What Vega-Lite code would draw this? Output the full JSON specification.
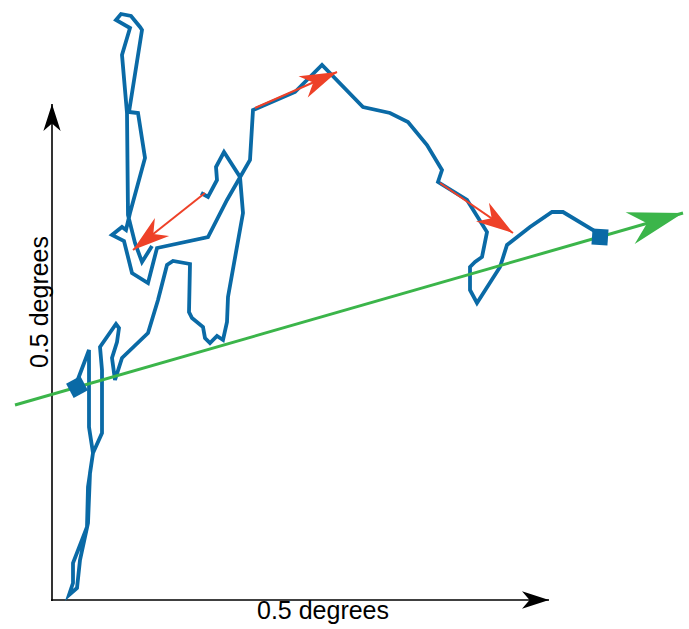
{
  "$schema": "https://vega.github.io/schema/vega-lite/v6.json",
  "width": 689,
  "height": 629,
  "padding": 0,
  "autosize": {"type": "fit", "contains": "padding"},
  "config": {"view": {"stroke": null}},
  "datasets": {
    "path": [
      {"seg": 1, "i": 1, "x": 75, "y": 387},
      {"seg": 1, "i": 2, "x": 89, "y": 350},
      {"seg": 1, "i": 3, "x": 89, "y": 427},
      {"seg": 1, "i": 4, "x": 93, "y": 453},
      {"seg": 1, "i": 5, "x": 88, "y": 487},
      {"seg": 1, "i": 6, "x": 87, "y": 527},
      {"seg": 1, "i": 7, "x": 82, "y": 540},
      {"seg": 1, "i": 8, "x": 73, "y": 563},
      {"seg": 1, "i": 9, "x": 73, "y": 583},
      {"seg": 1, "i": 10, "x": 69, "y": 595},
      {"seg": 1, "i": 11, "x": 77, "y": 588},
      {"seg": 1, "i": 12, "x": 80, "y": 560},
      {"seg": 1, "i": 13, "x": 88, "y": 523},
      {"seg": 1, "i": 14, "x": 90, "y": 473},
      {"seg": 1, "i": 15, "x": 93, "y": 453},
      {"seg": 1, "i": 16, "x": 102, "y": 433},
      {"seg": 1, "i": 17, "x": 102, "y": 370},
      {"seg": 1, "i": 18, "x": 100, "y": 347},
      {"seg": 1, "i": 19, "x": 116, "y": 324},
      {"seg": 1, "i": 20, "x": 119, "y": 328},
      {"seg": 1, "i": 21, "x": 117, "y": 342},
      {"seg": 1, "i": 22, "x": 112, "y": 358},
      {"seg": 1, "i": 23, "x": 115, "y": 380},
      {"seg": 1, "i": 24, "x": 122, "y": 358},
      {"seg": 1, "i": 25, "x": 148, "y": 333},
      {"seg": 1, "i": 26, "x": 158, "y": 300},
      {"seg": 1, "i": 27, "x": 167, "y": 265},
      {"seg": 1, "i": 28, "x": 173, "y": 261},
      {"seg": 1, "i": 29, "x": 190, "y": 264},
      {"seg": 1, "i": 30, "x": 189, "y": 312},
      {"seg": 1, "i": 31, "x": 192, "y": 318},
      {"seg": 1, "i": 32, "x": 203, "y": 327},
      {"seg": 1, "i": 33, "x": 205, "y": 338},
      {"seg": 1, "i": 34, "x": 210, "y": 343},
      {"seg": 1, "i": 35, "x": 217, "y": 336},
      {"seg": 1, "i": 36, "x": 223, "y": 340},
      {"seg": 1, "i": 37, "x": 227, "y": 322},
      {"seg": 1, "i": 38, "x": 228, "y": 297},
      {"seg": 1, "i": 39, "x": 243, "y": 213},
      {"seg": 1, "i": 40, "x": 240, "y": 177},
      {"seg": 1, "i": 41, "x": 224, "y": 152},
      {"seg": 1, "i": 42, "x": 216, "y": 167},
      {"seg": 1, "i": 43, "x": 217, "y": 180},
      {"seg": 1, "i": 44, "x": 208, "y": 197},
      {"seg": 1, "i": 45, "x": 201, "y": 193},
      {"seg": 2, "i": 46, "x": 152, "y": 246},
      {"seg": 2, "i": 47, "x": 142, "y": 262},
      {"seg": 2, "i": 48, "x": 135, "y": 243},
      {"seg": 2, "i": 49, "x": 128, "y": 215},
      {"seg": 2, "i": 50, "x": 127, "y": 113},
      {"seg": 2, "i": 51, "x": 122, "y": 55},
      {"seg": 2, "i": 52, "x": 130, "y": 28},
      {"seg": 2, "i": 53, "x": 116, "y": 20},
      {"seg": 2, "i": 54, "x": 121, "y": 14},
      {"seg": 2, "i": 55, "x": 131, "y": 16},
      {"seg": 2, "i": 56, "x": 140, "y": 27},
      {"seg": 2, "i": 57, "x": 142, "y": 30},
      {"seg": 2, "i": 58, "x": 129, "y": 112},
      {"seg": 2, "i": 59, "x": 138, "y": 113},
      {"seg": 2, "i": 60, "x": 145, "y": 158},
      {"seg": 2, "i": 61, "x": 130, "y": 213},
      {"seg": 2, "i": 62, "x": 126, "y": 230},
      {"seg": 2, "i": 63, "x": 122, "y": 227},
      {"seg": 2, "i": 64, "x": 112, "y": 235},
      {"seg": 2, "i": 65, "x": 124, "y": 241},
      {"seg": 2, "i": 66, "x": 127, "y": 253},
      {"seg": 2, "i": 67, "x": 132, "y": 273},
      {"seg": 2, "i": 68, "x": 148, "y": 283},
      {"seg": 2, "i": 69, "x": 157, "y": 248},
      {"seg": 2, "i": 70, "x": 208, "y": 237},
      {"seg": 2, "i": 71, "x": 227, "y": 200},
      {"seg": 2, "i": 72, "x": 250, "y": 160},
      {"seg": 2, "i": 73, "x": 253, "y": 110},
      {"seg": 2, "i": 74, "x": 295, "y": 92},
      {"seg": 2, "i": 75, "x": 322, "y": 65},
      {"seg": 2, "i": 76, "x": 363, "y": 107},
      {"seg": 2, "i": 77, "x": 390, "y": 113},
      {"seg": 2, "i": 78, "x": 408, "y": 122},
      {"seg": 2, "i": 79, "x": 427, "y": 145},
      {"seg": 2, "i": 80, "x": 442, "y": 170},
      {"seg": 2, "i": 81, "x": 438, "y": 182},
      {"seg": 2, "i": 82, "x": 467, "y": 200},
      {"seg": 2, "i": 83, "x": 487, "y": 232},
      {"seg": 2, "i": 84, "x": 482, "y": 257},
      {"seg": 2, "i": 85, "x": 475, "y": 262},
      {"seg": 2, "i": 86, "x": 470, "y": 267},
      {"seg": 2, "i": 87, "x": 470, "y": 290},
      {"seg": 2, "i": 88, "x": 477, "y": 303},
      {"seg": 2, "i": 89, "x": 500, "y": 267},
      {"seg": 2, "i": 90, "x": 507, "y": 245},
      {"seg": 2, "i": 91, "x": 530, "y": 227},
      {"seg": 2, "i": 92, "x": 552, "y": 212},
      {"seg": 2, "i": 93, "x": 563, "y": 212},
      {"seg": 2, "i": 94, "x": 593, "y": 230},
      {"seg": 2, "i": 95, "x": 600, "y": 237}
    ],
    "arrows": [
      {"kind": "saccade", "x": 205, "y": 193, "x2": 133, "y2": 250},
      {"kind": "saccade", "x": 255, "y": 108, "x2": 337, "y2": 72},
      {"kind": "saccade", "x": 440, "y": 183, "x2": 513, "y2": 233},
      {"kind": "trend", "x": 15, "y": 405, "x2": 683, "y2": 213},
      {"kind": "axis", "x": 52, "y": 601, "x2": 52, "y2": 104},
      {"kind": "axis", "x": 51, "y": 600, "x2": 549, "y2": 600}
    ],
    "ends": [
      {"which": "start", "x": 77, "y": 387},
      {"which": "end", "x": 600, "y": 237}
    ],
    "labels": [
      {"dir": "x", "text": "0.5 degrees", "x": 323, "y": 611},
      {"dir": "y", "text": "0.5 degrees", "x": 40, "y": 302}
    ]
  },
  "layer": [
    {
      "data": {"name": "arrows"},
      "transform": [{"filter": "datum.kind === 'axis'"}],
      "mark": {"type": "rule", "color": "black", "strokeWidth": 1.6},
      "encoding": {
        "x": {"field": "x", "type": "quantitative", "scale": {"domain": [0, 689], "nice": false, "zero": false}, "axis": null},
        "y": {"field": "y", "type": "quantitative", "scale": {"domain": [0, 629], "nice": false, "zero": false, "reverse": true}, "axis": null},
        "x2": {"field": "x2"},
        "y2": {"field": "y2"}
      }
    },
    {
      "data": {"name": "arrows"},
      "transform": [
        {"filter": "datum.kind === 'axis'"},
        {"calculate": "atan2(datum.y2 - datum.y, datum.x2 - datum.x) * 180 / PI", "as": "ang"}
      ],
      "mark": {"type": "point", "shape": "M0,0L-1,-0.32L-0.72,0L-1,0.32Z", "filled": true, "color": "black", "opacity": 1, "size": 2916},
      "encoding": {
        "x": {"field": "x2", "type": "quantitative", "scale": {"domain": [0, 689], "nice": false, "zero": false}, "axis": null},
        "y": {"field": "y2", "type": "quantitative", "scale": {"domain": [0, 629], "nice": false, "zero": false, "reverse": true}, "axis": null},
        "angle": {"field": "ang", "type": "quantitative", "scale": null}
      }
    },
    {
      "data": {"name": "path"},
      "mark": {"type": "line", "color": "#0a6aa6", "strokeWidth": 3.8, "strokeJoin": "miter"},
      "encoding": {
        "x": {"field": "x", "type": "quantitative", "scale": {"domain": [0, 689], "nice": false, "zero": false}, "axis": null},
        "y": {"field": "y", "type": "quantitative", "scale": {"domain": [0, 629], "nice": false, "zero": false, "reverse": true}, "axis": null},
        "order": {"field": "i"},
        "detail": {"field": "seg"}
      }
    },
    {
      "data": {"name": "arrows"},
      "transform": [{"filter": "datum.kind === 'trend'"}],
      "mark": {"type": "rule", "color": "#3bb54a", "strokeWidth": 3},
      "encoding": {
        "x": {"field": "x", "type": "quantitative", "scale": {"domain": [0, 689], "nice": false, "zero": false}, "axis": null},
        "y": {"field": "y", "type": "quantitative", "scale": {"domain": [0, 629], "nice": false, "zero": false, "reverse": true}, "axis": null},
        "x2": {"field": "x2"},
        "y2": {"field": "y2"}
      }
    },
    {
      "data": {"name": "arrows"},
      "transform": [
        {"filter": "datum.kind === 'trend'"},
        {"calculate": "atan2(datum.y2 - datum.y, datum.x2 - datum.x) * 180 / PI", "as": "ang"}
      ],
      "mark": {"type": "point", "shape": "M0,0L-1,-0.3L-0.68,0L-1,0.3Z", "filled": true, "color": "#3bb54a", "opacity": 1, "size": 12100},
      "encoding": {
        "x": {"field": "x2", "type": "quantitative", "scale": {"domain": [0, 689], "nice": false, "zero": false}, "axis": null},
        "y": {"field": "y2", "type": "quantitative", "scale": {"domain": [0, 629], "nice": false, "zero": false, "reverse": true}, "axis": null},
        "angle": {"field": "ang", "type": "quantitative", "scale": null}
      }
    },
    {
      "data": {"name": "arrows"},
      "transform": [{"filter": "datum.kind === 'saccade'"}],
      "mark": {"type": "rule", "color": "#ee4128", "strokeWidth": 2},
      "encoding": {
        "x": {"field": "x", "type": "quantitative", "scale": {"domain": [0, 689], "nice": false, "zero": false}, "axis": null},
        "y": {"field": "y", "type": "quantitative", "scale": {"domain": [0, 629], "nice": false, "zero": false, "reverse": true}, "axis": null},
        "x2": {"field": "x2"},
        "y2": {"field": "y2"}
      }
    },
    {
      "data": {"name": "arrows"},
      "transform": [
        {"filter": "datum.kind === 'saccade'"},
        {"calculate": "atan2(datum.y2 - datum.y, datum.x2 - datum.x) * 180 / PI", "as": "ang"}
      ],
      "mark": {"type": "point", "shape": "M0,0L-1,-0.31L-0.7,0L-1,0.31Z", "filled": true, "color": "#ee4128", "opacity": 1, "size": 5476},
      "encoding": {
        "x": {"field": "x2", "type": "quantitative", "scale": {"domain": [0, 689], "nice": false, "zero": false}, "axis": null},
        "y": {"field": "y2", "type": "quantitative", "scale": {"domain": [0, 629], "nice": false, "zero": false, "reverse": true}, "axis": null},
        "angle": {"field": "ang", "type": "quantitative", "scale": null}
      }
    },
    {
      "data": {"name": "ends"},
      "transform": [{"filter": "datum.which === 'start'"}],
      "mark": {"type": "point", "shape": "square", "filled": true, "color": "#0a6aa6", "opacity": 1, "size": 260, "angle": -28},
      "encoding": {
        "x": {"field": "x", "type": "quantitative", "scale": {"domain": [0, 689], "nice": false, "zero": false}, "axis": null},
        "y": {"field": "y", "type": "quantitative", "scale": {"domain": [0, 629], "nice": false, "zero": false, "reverse": true}, "axis": null}
      }
    },
    {
      "data": {"name": "ends"},
      "transform": [{"filter": "datum.which === 'end'"}],
      "mark": {"type": "point", "shape": "square", "filled": true, "color": "#0a6aa6", "opacity": 1, "size": 256, "angle": 4},
      "encoding": {
        "x": {"field": "x", "type": "quantitative", "scale": {"domain": [0, 689], "nice": false, "zero": false}, "axis": null},
        "y": {"field": "y", "type": "quantitative", "scale": {"domain": [0, 629], "nice": false, "zero": false, "reverse": true}, "axis": null}
      }
    },
    {
      "data": {"name": "labels"},
      "transform": [{"filter": "datum.dir === 'x'"}],
      "mark": {"type": "text", "font": "Liberation Sans", "fontSize": 25, "align": "center", "baseline": "middle", "color": "black"},
      "encoding": {
        "x": {"field": "x", "type": "quantitative", "scale": {"domain": [0, 689], "nice": false, "zero": false}, "axis": null},
        "y": {"field": "y", "type": "quantitative", "scale": {"domain": [0, 629], "nice": false, "zero": false, "reverse": true}, "axis": null},
        "text": {"field": "text"}
      }
    },
    {
      "data": {"name": "labels"},
      "transform": [{"filter": "datum.dir === 'y'"}],
      "mark": {"type": "text", "font": "Liberation Sans", "fontSize": 25, "align": "center", "baseline": "middle", "angle": 270, "color": "black"},
      "encoding": {
        "x": {"field": "x", "type": "quantitative", "scale": {"domain": [0, 689], "nice": false, "zero": false}, "axis": null},
        "y": {"field": "y", "type": "quantitative", "scale": {"domain": [0, 629], "nice": false, "zero": false, "reverse": true}, "axis": null},
        "text": {"field": "text"}
      }
    }
  ]
}
